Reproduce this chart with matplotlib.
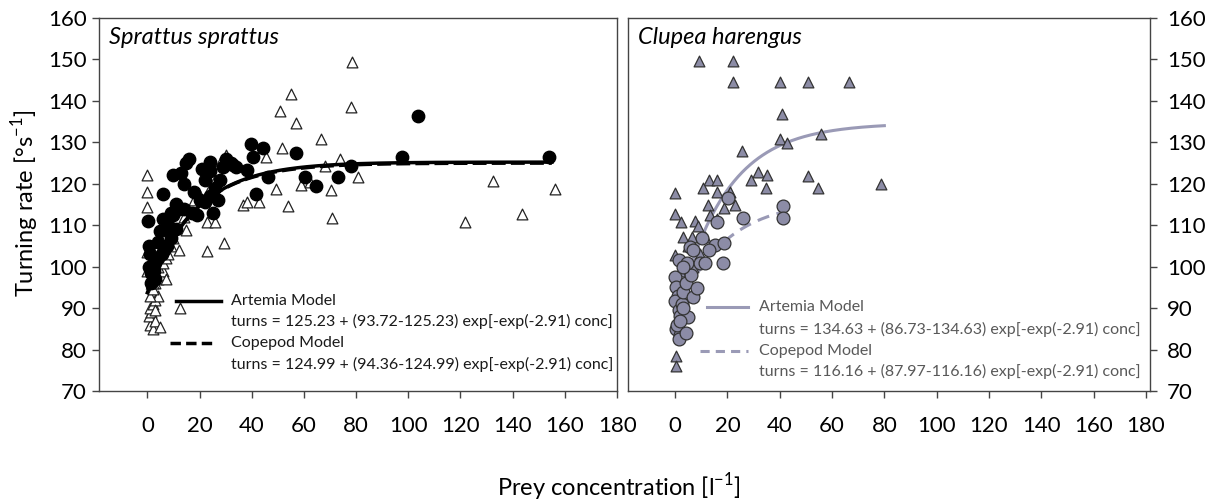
import numpy as np
import matplotlib
matplotlib.use('Agg')
import matplotlib.pyplot as plt

plt.rcParams['font.family'] = ['Lato', 'DejaVu Sans']
plt.rcParams['mathtext.fontset'] = 'custom'
plt.rcParams['mathtext.rm'] = 'Lato'

# Sprattus sprattus - filled circles
spr_circ_x = [0.4, 0.5, 1, 0.5, 1.5, 2.5, 3, 4, 4, 5, 5.5, 6, 6, 7, 7.5, 8, 9, 9, 10, 10,
              11, 11, 12, 13, 14, 14, 15, 16, 17, 18, 19, 20, 21, 22, 22, 24, 24, 24, 25,
              26, 27, 28, 29, 30, 32, 33, 34, 38, 39.6, 40.4, 41.5, 44.2, 46.4, 56.9, 60.5,
              64.5, 73.2, 77.9, 97.5, 103.9, 153.9, 2, 3, 1.5, 6.5]
spr_circ_y = [111, 105, 103, 100, 98.5, 99, 101, 106, 102, 108.5, 103, 117.5, 111.5, 109, 105,
              110, 107, 113, 112.5, 122, 109, 115, 114, 122.5, 120, 114, 125, 126, 113, 118,
              112.5, 116, 123.5, 115.5, 121, 125.3, 123, 117, 113, 119, 116, 121, 124, 126,
              125, 124.5, 124, 123.3, 129.5, 126.5, 117.5, 128.6, 121.6, 127.5, 121.7, 119.5,
              121.6, 124.4, 126.5, 136.4, 126.4, 100, 97, 96, 104]

# Sprattus sprattus - open triangles
spr_tri_x = [0, 0, 0, 0, 0, 1, 2, 0.5, 1.5, 3, 5, 1, 2, 3, 4, 1, 2, 3, 4, 5, 6, 4, 6, 7, 8,
             5, 9, 10, 2, 7, 12.5, 3, 15, 22.8, 26, 22.8, 29.4, 12, 10, 14, 18, 20, 24, 28,
             30, 26, 36.8, 38.1, 42.8, 45.5, 49.2, 51.7, 50.7, 55, 57, 53.8, 58.8, 62.3,
             66.6, 68, 70.4, 70.6, 73.8, 78, 78.6, 80.6, 121.7, 132.3, 143.7, 156.2]
spr_tri_y = [122, 118, 114.5, 103.6, 99, 86, 85, 88, 89, 87, 85.5, 90, 91, 92, 93, 93, 94.5,
             96, 97, 98, 99, 100, 101, 102, 103, 104, 105, 107, 96, 97, 90, 89.5, 108.8,
             110.8, 110.8, 103.8, 105.8, 104, 109, 112, 116, 117, 119, 125, 127, 121, 114.9,
             115.5, 115.5, 126.5, 118.7, 128.7, 137.6, 141.6, 134.6, 114.7, 119.7, 120.5,
             130.7, 124.4, 118.6, 111.7, 126, 138.6, 149.5, 121.7, 110.7, 120.7, 112.7, 118.7]

# Clupea harengus - triangles
clu_tri_x = [9.2, 22.3, 22.3, 40.2, 51, 66.3, 40.8, 40.2, 42.7, 55.8, 25.5, 31.5, 35.1, 29.1,
             34.7, 51, 54.8, 78.8, 13, 16.2, 10.6, 15.9, 21, 0, 12.7, 18.5, 22.9, 0, 2.3, 7.6,
             8.9, 15.9, 13.4, 3.2, 6.4, 11.5, 0, 9.6, 0.5, 0.5, 1, 0.5, 2, 5, 7, 1, 2]
clu_tri_y = [149.6, 149.6, 144.6, 144.6, 144.6, 144.6, 136.8, 130.8, 129.8, 131.9, 127.9, 122.9,
             122.1, 120.9, 118.9, 121.9, 118.9, 119.9, 120.9, 120.9, 118.9, 117.9, 118.1, 117.8,
             114.9, 114.1, 114.9, 112.7, 110.8, 111, 109.9, 111.5, 112.5, 107.2, 107.2, 107.2,
             102.8, 103, 78.5, 76, 96, 93, 99, 105, 100, 87, 95]

# Clupea harengus - circles
clu_circ_x = [0, 0.5, 1, 0, 1.3, 2, 0.5, 1.9, 1.3, 0.8, 2.5, 3, 4, 5.1, 4, 7, 8.3, 6, 1.3, 4.5,
              3, 5.7, 9.6, 11.4, 18.2, 10.2, 15.3, 18.7, 13, 16.2, 26.1, 20.4, 41.4, 41.4, 2,
              3, 7]
clu_circ_y = [97.5, 95, 93, 91.7, 89.5, 88, 85, 83.5, 82.5, 86, 91, 94, 96, 87.9, 84, 92.7,
              94.8, 98, 101.6, 100.8, 100, 104.8, 100.8, 100.8, 100.8, 107, 105.2, 105.8, 104,
              110.7, 111.8, 116.6, 114.7, 111.8, 87, 90, 104]

# model parameters: turns = a + (b - a) exp(-exp(k) conc)
k = -2.91
spr_art = (125.23, 93.72, 0, 155)
spr_cop = (124.99, 94.36, 0, 155)
clu_art = (134.63, 86.73, 3, 80)
clu_cop = (116.16, 87.97, 5, 42)

spr_labels = ['turns = 125.23 + (93.72-125.23) exp[-exp(-2.91) conc]',
              'turns = 124.99 + (94.36-124.99) exp[-exp(-2.91) conc]']
clu_labels = ['turns = 134.63 + (86.73-134.63) exp[-exp(-2.91) conc]',
              'turns = 116.16 + (87.97-116.16) exp[-exp(-2.91) conc]']

xticks = list(range(0, 181, 20))
yticks = list(range(70, 161, 10))

purple = '#8c8ca6'
line_purple = '#9a9ab6'
grey = '#595959'
leg_fs = 11.5


def model(p):
    a, b, x0, x1 = p
    x = np.linspace(x0, x1, 300)
    return x, a + (b - a) * np.exp(-np.exp(k) * x)


def style_axes(ax, xlim, right=False):
    ax.set_xlim(*xlim)
    ax.set_ylim(70, 160)
    ax.set_xticks(xticks)
    ax.set_yticks(yticks)
    for s in ax.spines.values():
        s.set_color('#444444')
        s.set_linewidth(1.0)
    ax.tick_params(direction='out', length=5, width=1, color='#444444',
                   labelsize=16, pad=4)
    ax.tick_params(axis='x', pad=13)
    if right:
        ax.yaxis.tick_right()
        ax.tick_params(axis='y', pad=7)


def legend_block(ax, lines, labels, color, lw, dash, xtext, ys, tcolor):
    # lines: [(x0, x1), (x0, x1)] for solid and dashed entries
    ax.plot(lines[0], [ys[0], ys[0]], transform=ax.transAxes, color=color, lw=lw)
    ax.plot(lines[1], [ys[2], ys[2]], transform=ax.transAxes, color=color, lw=lw, ls=dash)
    texts = ['Artemia Model', labels[0], 'Copepod Model', labels[1]]
    for t, yy in zip(texts, ys):
        ax.text(xtext, yy, t, transform=ax.transAxes, fontsize=leg_fs, va='center',
                color=tcolor)


fig = plt.figure(figsize=(12.05, 5.01), dpi=100)
ax1 = fig.add_axes([0.0822, 0.2196, 0.4299, 0.7445])
ax2 = fig.add_axes([0.5212, 0.2196, 0.4332, 0.7445])

# left panel
x, y = model(spr_art)
ax1.plot(x, y, color='black', lw=2.5, zorder=4)
x, y = model(spr_cop)
ax1.plot(x, y, color='black', lw=2.5, ls=(0, (4, 1.5)), zorder=4)
ax1.scatter(spr_tri_x, spr_tri_y, marker='^', s=60, facecolor='white',
            edgecolor='#222222', linewidth=0.9, zorder=3)
ax1.scatter(spr_circ_x, spr_circ_y, marker='o', s=80, facecolor='black',
            edgecolor='black', zorder=3)
style_axes(ax1, (-18.5, 180))
ax1.text(0.02, 0.975, 'Sprattus sprattus', transform=ax1.transAxes, style='italic',
         fontsize=17, va='top', ha='left')
legend_block(ax1, [(0.149, 0.236), (0.137, 0.224)], spr_labels, 'black', 2.5,
             (0, (3, 1.5)), 0.255, [0.242, 0.186, 0.128, 0.070], '#1a1a1a')

# right panel
x, y = model(clu_art)
ax2.plot(x, y, color=line_purple, lw=2.2, zorder=2)
x, y = model(clu_cop)
ax2.plot(x, y, color=line_purple, lw=2.2, ls=(0, (4, 2.5)), zorder=2)
ax2.scatter(clu_tri_x, clu_tri_y, marker='^', s=60, facecolor=purple,
            edgecolor='#333333', linewidth=0.9, zorder=3)
ax2.scatter(clu_circ_x, clu_circ_y, marker='o', s=85, facecolor=purple,
            edgecolor='#333333', linewidth=0.9, zorder=3)
style_axes(ax2, (-18, 181.6), right=True)
ax2.text(0.02, 0.975, 'Clupea harengus', transform=ax2.transAxes, style='italic',
         fontsize=17, va='top', ha='left')
legend_block(ax2, [(0.151, 0.230), (0.138, 0.230)], clu_labels, line_purple, 2.2,
             (0, (3, 2)), 0.251, [0.225, 0.166, 0.107, 0.051], grey)

fig.text(0.514, 0.028, 'Prey concentration [l$^{-1}$]', ha='center', va='center', fontsize=17)
fig.text(0.021, 0.595, 'Turning rate [°s$^{-1}$]', ha='center', va='center', fontsize=17,
         rotation=90)

fig.savefig('out.png', dpi=100)
